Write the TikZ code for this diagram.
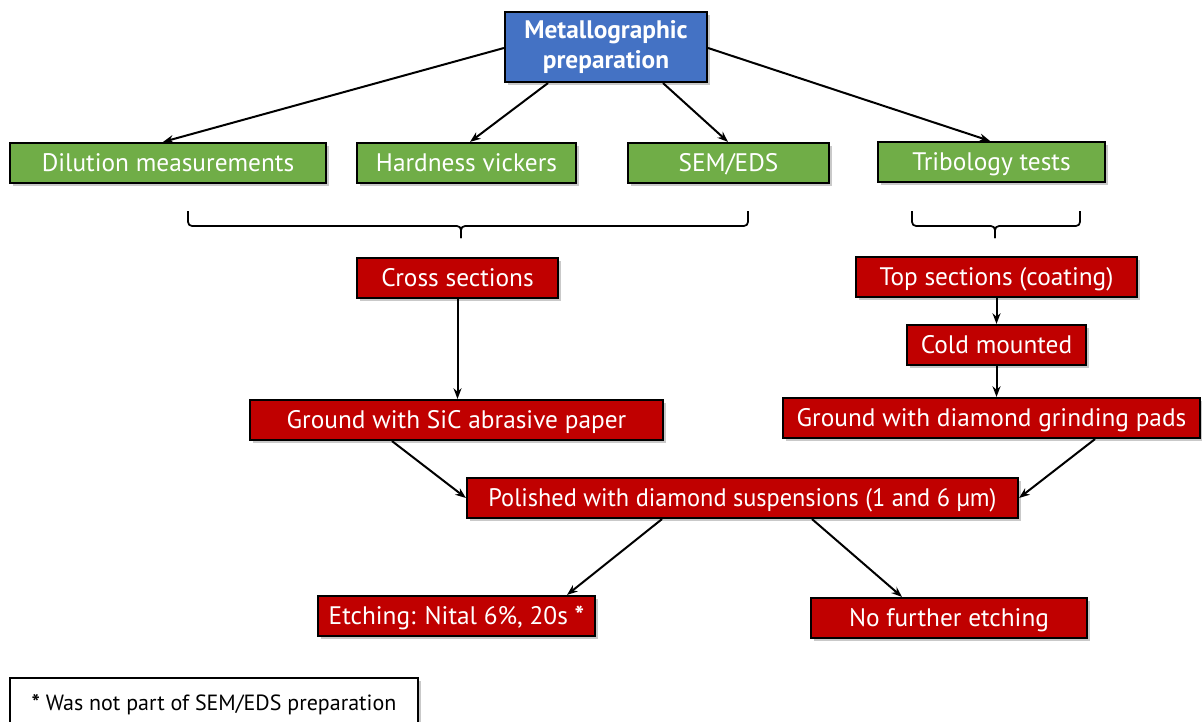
\documentclass[tikz,border=0pt]{standalone}
\usepackage{fontspec}
\setmainfont{PT Sans}
\usetikzlibrary{arrows.meta,shadows}
\definecolor{mblue}{HTML}{4472C4}
\definecolor{mgreen}{HTML}{70AD47}
\definecolor{mred}{HTML}{C00000}
\begin{document}
\begin{tikzpicture}[x=0.75pt,y=-0.75pt,
  base/.style={draw=black,line width=1.6pt,text=white,inner sep=0pt,
    font=\fontsize{19}{22}\selectfont,text height=13.3pt,text depth=0pt,
    drop shadow={shadow xshift=2pt,shadow yshift=-2pt,opacity=0.3,fill=black!70}},
  bsize/.style 2 args={minimum width=#1*0.75pt,minimum height=#2*0.75pt},
  bluebox/.style={base,fill=mblue,align=center,text height=,text depth=,
    font=\fontsize{19}{22}\selectfont\bfseries},
  greenbox/.style={base,fill=mgreen},
  redbox/.style={base,fill=mred},
  conn/.style={line width=1.5pt,-{Stealth[length=8pt,width=6pt]}},
  bracepath/.style={line width=1.3pt,rounded corners=3pt}
]
\useasboundingbox (0,0) rectangle (1202,721);

\node[bluebox,bsize={202}{70}] (meta) at (606,47) {Metallographic\\preparation};

\node[greenbox,bsize={316}{40}] (dil) at (168,163) {Dilution measurements};
\node[greenbox,bsize={219}{40}] (hard) at (466.5,163) {Hardness vickers};
\node[greenbox,bsize={201}{40}] (sem) at (728.5,163) {SEM/EDS};
\node[greenbox,bsize={227}{40}] (tri) at (991.5,162) {Tribology tests};

\node[redbox,bsize={201}{40}] (cross) at (457.5,278) {Cross sections};
\node[redbox,bsize={281}{40}] (top) at (996.5,277) {Top sections (coating)};
\node[redbox,bsize={179}{40}] (cold) at (996.5,345) {Cold mounted};
\node[redbox,bsize={413}{40}] (gsic) at (456.5,420) {Ground with SiC abrasive paper};
\node[redbox,bsize={417}{40}] (gdia) at (991.5,418) {Ground with diamond grinding pads};
\node[redbox,bsize={551}{40}] (pol) at (742.5,498) {\scalebox{0.96}[1]{Polished with diamond suspensions (1 and 6 µm)}};
\node[redbox,bsize={277}{40}] (etch) at (456.5,616) {Etching: Nital 6\%, 20s \textbf{*}};
\node[redbox,bsize={276}{40}] (nofur) at (949,618) {No further etching};

\node[base,fill=white,text=black,bsize={408}{50},font=\fontsize{16.5}{19}\selectfont,text height=11.6pt] (foot) at (214,703) {\textbf{*} Was not part of SEM/EDS preparation};

% connectors
\draw[conn] (meta.west |- 0,48) -- (dil.north -| 163,0);
\draw[conn] (meta.south -| 548,0) -- (hard.north -| 470,0);
\draw[conn] (meta.south -| 663,0) -- (sem.north -| 728,0);
\draw[conn] (meta.east |- 0,48) -- (tri.north -| 990,0);

\draw[conn] (cross.south) -- (gsic.north -| cross.south);
\draw[conn] (top.south) -- (cold.north);
\draw[conn] (cold.south) -- (gdia.north -| cold.south);
\draw[conn] (gsic.south -| 392,0) -- (pol.west);
\draw[conn] (gdia.south -| 1095,0) -- (pol.east);
\draw[conn] (pol.south -| 662,0) -- (etch.north -| 567,0);
\draw[conn] (pol.south -| 812,0) -- (nofur.north -| 902,0);

% braces
\coordinate (bl1) at (188,211);
\coordinate (bl2) at (748,211);
\coordinate (blt) at (461,238);
\draw[bracepath] (bl1) -- (188,226) -- (461,226) -- (blt);
\draw[bracepath] (bl2) -- (748,226) -- (461,226) -- (blt);
\coordinate (br1) at (912,211);
\coordinate (br2) at (1080,211);
\coordinate (brt) at (995,238);
\draw[bracepath] (br1) -- (912,226) -- (995,226) -- (brt);
\draw[bracepath] (br2) -- (1080,226) -- (995,226) -- (brt);
\end{tikzpicture}
\end{document}
